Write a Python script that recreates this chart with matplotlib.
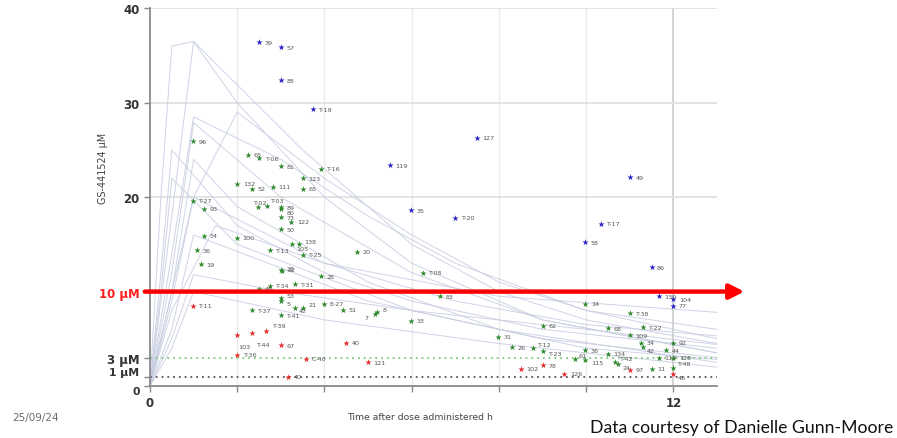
import matplotlib
matplotlib.use("Agg")
import matplotlib.pyplot as plt

# ---- plasma concentration profiles (time h, GS-441524 uM) ----
pk_curves = [
    ([0, 0.25, 0.5, 1, 3.5, 6, 8, 10, 13], [0, 20, 36, 36.5, 25, 15, 10, 7, 4.5]),
    ([0, 0.5, 1, 2, 4, 6, 9, 13], [0, 18, 36.5, 30, 20, 13, 7, 3.5]),
    ([0, 0.5, 1, 3, 5, 7, 10, 13], [0, 14, 28.5, 24, 18, 13, 8, 5]),
    ([0, 1, 2, 4, 6, 8, 10, 13], [0, 20, 29, 22, 16, 11, 8, 6]),
    ([0, 0.5, 1, 3, 6, 9, 13], [0, 12, 27.9, 20, 12, 7, 3.5]),
    ([0, 0.25, 0.5, 2, 4, 6, 9, 13], [0, 12, 25, 17, 12, 9, 6, 4]),
    ([0, 0.5, 1, 2, 5, 8, 13], [0, 10, 24, 19, 11, 6, 2.5]),
    ([0, 0.5, 1, 3, 6, 10, 13], [0, 5, 11.8, 10, 8, 6, 4.4]),
    ([0, 0.5, 1, 4, 8, 13], [0, 9, 20, 13, 9.5, 7.8]),
    ([0, 0.5, 1, 5, 9, 13], [0, 6, 16, 9, 5, 3]),
    ([0, 0.25, 0.5, 2, 6, 10, 13], [0, 10, 22, 15, 8, 4, 2.8]),
    ([0, 0.5, 1, 4, 8, 13], [0, 4, 10, 7, 4.5, 2]),
    ([0, 0.5, 1.5, 4, 7, 10, 13], [0, 8, 17, 13, 9, 6.5, 5.3]),
]

# ---- individual samples: (time h, concentration uM, sample id) ----
green_x = [0.98, 2.24, 2.5, 3.0, 3.92, 3.5, 3.5, 2.0, 2.33, 2.82, 0.98, 1.24, 2.48, 2.68,
           3.0, 3.0, 3.0, 3.24, 3.0, 1.99, 1.24, 1.08, 1.16, 2.75, 3.26, 3.41, 3.5, 3.0,
           3.02, 3.92, 3.32, 2.75, 2.5, 4.74, 6.25, 6.66, 3.0, 3.0, 3.32, 3.5, 3.98, 4.42,
           2.33, 3.0, 5.2, 5.15, 5.98, 7.99, 9.0, 8.31, 8.79, 9.0, 9.98, 11.0, 10.5, 11.3,
           11.0, 11.25, 11.3, 12.0, 11.83, 9.98, 10.5, 9.74, 9.98, 11.66, 12.0, 10.67,
           10.74, 11.5, 12.0]
green_y = [25.9, 24.5, 24.1, 23.3, 23.0, 22.0, 20.9, 21.4, 20.9, 21.1, 19.6, 18.8, 19.0, 19.1,
           18.95, 18.8, 17.9, 17.4, 16.6, 15.7, 15.9, 14.4, 12.9, 14.4, 15.0, 15.0, 13.9, 12.3,
           12.15, 11.6, 10.8, 10.6, 10.3, 14.2, 12.0, 9.5, 9.3, 9.0, 8.3, 8.3, 8.7, 8.1,
           8.0, 7.5, 7.8, 7.6, 6.9, 5.2, 6.4, 4.1, 4.0, 3.7, 8.7, 7.7, 6.1, 6.2,
           5.4, 4.6, 4.1, 4.6, 3.8, 3.8, 3.4, 2.9, 2.8, 3.0, 3.0, 2.5,
           2.3, 1.8, 1.9]
green_labels = ["96", "65", "T-06", "81", "T-16", "123", "65", "132", "52", "111", "T-27", "93",
                "T-02", "T-03", "89", "80", "73", "122", "50", "100", "54", "36", "19", "T-13",
                "105", "138", "T-25", "22", "22", "28", "T-31", "T-34", "45", "20", "T-08", "83",
                "53", "5", "42", "21", "E-27", "51", "T-37", "T-41", "8", "7", "33", "31", "62",
                "26", "T-12", "T-23", "14", "T-38", "68", "T-22", "109", "34", "42", "92", "44",
                "36", "134", "61", "115", "113", "128", "T-42", "24", "11", "T-48"]

blue_x = [2.5, 3.0, 3.0, 3.73, 7.49, 5.5, 5.98, 7.0, 11.0, 10.33, 9.98, 11.5, 11.66, 12.0, 12.0]
blue_y = [36.4, 35.9, 32.4, 29.3, 26.3, 23.4, 18.6, 17.8, 22.1, 17.2, 15.2, 12.6, 9.5, 9.2, 8.5]
blue_labels = ["39", "57", "88", "T-19", "127", "119", "35", "T-20", "49", "T-17", "58", "86",
               "130", "104", "77"]

red_x = [0.98, 2.0, 2.33, 2.67, 3.0, 2.0, 3.57, 3.16, 4.49, 4.99, 8.5, 9.0, 9.5, 11.0, 12.0]
red_y = [8.5, 5.4, 5.6, 5.8, 4.3, 3.3, 2.9, 1.0, 4.6, 2.5, 1.8, 2.2, 1.3, 1.7, 1.3]
red_labels = ["T-11", "103", "T-44", "T-39", "67", "T-36", "C-40", "40", "40", "121", "102",
              "78", "126", "97", "46"]

# reference concentrations
thresholds = [10, 3, 1]

# label nudges (points) for crowded samples
red_offsets = {"103": (1, -8), "T-44": (3, -8), "T-39": (4, 4), "46": (3, -3)}
green_offsets = {"T-48": (3, 3), "T-42": (3, 3), "24": (3, -2), "105": (3, -3),
                 "138": (4, 2), "T-02": (-4, 3), "T-03": (2, 4), "80": (4, -3),
                 "22": (4, 1), "53": (4, 2), "5": (4, -2), "42": (3, -2), "21": (4, 2),
                 "8": (4, 2), "7": (-7, -2), "115": (4, -2), "61": (3, 2),
                 "T-12": (3, 3), "T-23": (4, -2)}

fig = plt.figure(figsize=(8.97, 4.39), dpi=100)
ax = fig.add_axes([0.1672, 0.1185, 0.6321, 0.8601])

# grid
for gx in [2, 4, 6, 8, 10]:
    ax.axvline(gx, color="#ebebeb", lw=1.0, zorder=0)
ax.axvline(12, color="#d2d2d2", lw=1.4, zorder=0)
for gy in [20, 30, 40]:
    ax.axhline(gy, color="#dedede", lw=1.2, zorder=0)

# concentration-time profiles
for t, c in pk_curves:
    ax.plot(t, c, color="#c6cce1", lw=0.7, alpha=0.85, zorder=1)

# threshold lines
ax.plot([0, 13], [thresholds[1]] * 2, color="#7cc87c", lw=1.3, ls=(0, (1, 2.2)), zorder=2)
ax.plot([0, 13], [thresholds[2]] * 2, color="#555555", lw=1.3, ls=(0, (1, 2.2)), zorder=2)


def draw_group(xs, ys, labels, color, offsets=None):
    offsets = offsets or {}
    ax.scatter(xs, ys, marker="*", s=22, color=color, linewidths=0, zorder=4)
    for x, y, lab in zip(xs, ys, labels):
        dx, dy = offsets.get(lab, (4, 0))
        ax.annotate(lab, (x, y), xytext=(dx, dy), textcoords="offset points",
                    fontsize=4.6, color="#555555", va="center", ha="left", zorder=5)


draw_group(green_x, green_y, green_labels, "#2f8a2f", green_offsets)
draw_group(blue_x, blue_y, blue_labels, "#2b22c8")
draw_group(red_x, red_y, red_labels, "#e52a2a", red_offsets)

# 10 uM arrow
ax.annotate("", xy=(13.63, thresholds[0]), xytext=(-0.12, thresholds[0]),
            arrowprops=dict(arrowstyle="-|>", color="#ff0000", lw=3.2, mutation_scale=22,
                            shrinkA=0, shrinkB=0),
            annotation_clip=False, zorder=6)

ax.set_xlim(0, 13)
ax.set_ylim(0, 40)

ax.set_xticks([0, 2, 4, 6, 8, 10, 12])
ax.set_xticklabels(["0", "", "", "", "", "", "12"])
ax.set_yticks([0, 1, 3, 10, 20, 30, 40])
ax.set_yticklabels(["0", "1 μM", "3 μM", "10 μM", "20", "30", "40"])
ax.tick_params(axis="both", color="#888888", length=4, width=1.0)
for lab in ax.get_yticklabels() + ax.get_xticklabels():
    lab.set_fontweight("bold")
    lab.set_fontsize(8.5)
    lab.set_color("#ff2020" if lab.get_text() == "10 μM" else "#333333")
# the two lowest y labels sit close together
ax.get_yticklabels()[0].set_fontsize(7.8)
ax.get_yticklabels()[0].set_va("top")
ax.get_yticklabels()[1].set_fontsize(7.8)
ax.get_yticklabels()[1].set_va("bottom")

for side in ["top", "right"]:
    ax.spines[side].set_visible(False)
for side in ["left", "bottom"]:
    ax.spines[side].set_color("#8a8a8a")
    ax.spines[side].set_linewidth(1.3)

ax.set_xlabel("Time after dose administered h", fontsize=6.7, color="#444444")
ax.set_ylabel("GS-441524 μM", fontsize=6.9, color="#444444")
ax.xaxis.set_label_coords(0.476, -0.069)
ax.yaxis.set_label_coords(-0.074, 0.58)

fig.text(12 / 897, 1 - 418 / 439, "25/09/24", fontsize=7.5, color="#6b6b6b", va="center")
fig.text(893 / 897, 1 - 428 / 439, "Data courtesy of Danielle Gunn-Moore",
         fontsize=12.7, color="#111111", va="center", ha="right", family="Lato")

fig.savefig("out.png", dpi=100, facecolor="white")
